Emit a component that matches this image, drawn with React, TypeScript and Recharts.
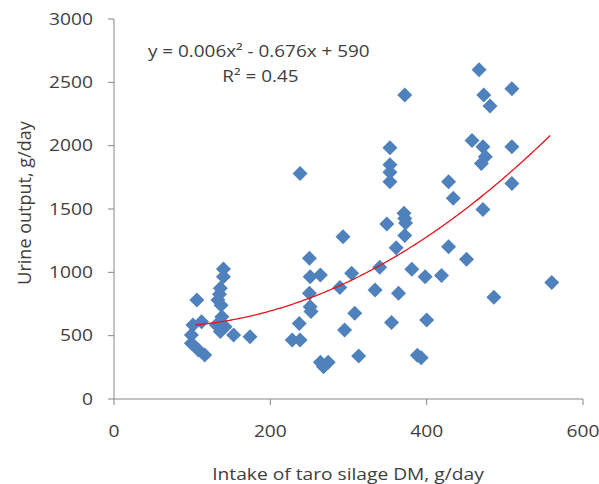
import React from "react";
import {
  ScatterChart,
  Scatter,
  XAxis,
  YAxis,
  ZAxis,
} from "recharts";

// Taro silage intake (g DM/day) vs. urine output (g/day), one value per animal-day
const intake = [
  99, 101, 106, 108, 112, 116, 99, 131, 133, 135, 136, 140, 140, 138, 142, 136, 153, 174, 137,
  228, 238, 237, 238, 250, 251, 264, 250, 251, 252, 264, 274, 268, 289, 293, 295, 304, 308,
  313, 334, 340, 349, 353, 353, 353, 353, 355, 361, 364, 371, 372, 373, 372, 372, 381, 388,
  393, 398, 400, 419, 428, 428, 434, 451, 458, 467, 470, 472, 472, 475, 473, 481, 486, 509,
  509, 509, 560,
];
const urine = [
  440, 584, 782, 387, 610, 347, 505, 584, 782, 826, 874, 966, 1026, 650, 571, 532, 505, 492, 740,
  466, 466, 597, 1781, 1111, 966, 979, 834, 729, 690, 290, 290, 255, 880, 1281, 545, 992, 676,
  340, 860, 1040, 1381, 1984, 1850, 1790, 1716, 603, 1195, 834, 1466, 1425, 1390, 1290, 2400, 1024, 345,
  325, 966, 624, 975, 1202, 1716, 1584, 1103, 2040, 2600, 1860, 1992, 1497, 1913, 2400, 2314, 803, 2450,
  1992, 1702, 920,
];

const xTicks = [0, 200, 400, 600];
const yTicks = [0, 500, 1000, 1500, 2000, 2500, 3000];

// fitted polynomial trendline: y = 0.006x² - 0.676x + 590
const trendA = 0.006;
const trendB = -0.676;
const trendC = 590;
const trendFrom = 104;
const trendTo = 558;

const points = intake.map((x, i) => ({ x, y: urine[i] }));

const trend: { x: number; y: number }[] = [];
for (let x = trendFrom; x <= trendTo; x += 2) {
  trend.push({ x, y: trendA * x * x + trendB * x + trendC });
}

const FONT = "'Open Sans', sans-serif";
const TEXT = "#404040";
const AXIS = "#868686";
const STRETCH = "scale(1.2,1)";

const Diamond = (props: any) => {
  const { cx, cy } = props;
  const r = 7.5;
  return (
    <path
      d={`M${cx},${cy - r}L${cx + r},${cy}L${cx},${cy + r}L${cx - r},${cy}Z`}
      fill="#4F81BD"
    />
  );
};

const NoDot = () => <g />;

const XTick = ({ x, y, payload }: any) => (
  <g transform={`translate(${x},${y})`}>
    <text transform={STRETCH} textAnchor="middle" dy="0.71em" fill={TEXT} fontSize={16} fontFamily={FONT}>
      {payload.value}
    </text>
  </g>
);

const YTick = ({ x, y, payload }: any) => (
  <g transform={`translate(${x},${y})`}>
    <text transform={STRETCH} textAnchor="end" dy="0.36em" fill={TEXT} fontSize={16} fontFamily={FONT}>
      {payload.value}
    </text>
  </g>
);

export default function App() {
  return (
    <div style={{ position: "absolute", left: 0, top: 0, width: 599, height: 484, background: "#fff" }}>
      <ScatterChart width={599} height={484} margin={{ top: 19, right: 16, bottom: 25, left: 0 }}>
        <XAxis
          type="number"
          dataKey="x"
          domain={[0, 600]}
          ticks={xTicks}
          height={60}
          tickSize={6}
          tickMargin={21}
          stroke={AXIS}
          tick={<XTick />}
          label={{
            content: () => (
              <g transform="translate(348,480)">
                <text transform={STRETCH} textAnchor="middle" fill={TEXT} fontSize={16} fontFamily={FONT}>
                  Intake of taro silage DM, g/day
                </text>
              </g>
            ),
          }}
        />
        <YAxis
          type="number"
          dataKey="y"
          domain={[0, 3000]}
          ticks={yTicks}
          width={114}
          tickSize={6}
          tickMargin={15}
          stroke={AXIS}
          tick={<YTick />}
          label={{
            content: () => (
              <text
                transform="translate(31,203) rotate(-90)"
                textAnchor="middle"
                fill={TEXT}
                fontSize={18}
                fontFamily={FONT}
              >
                Urine output, g/day
              </text>
            ),
          }}
        />
        <ZAxis range={[120, 120]} />
        <Scatter data={points} shape={<Diamond />} isAnimationActive={false} />
        <Scatter
          data={trend}
          line={{ stroke: "#e3141b", strokeWidth: 1.3 }}
          shape={<NoDot />}
          isAnimationActive={false}
        />
      </ScatterChart>
      <div
        style={{
          position: "absolute",
          left: 148,
          top: 39,
          fontFamily: FONT,
          fontSize: 16,
          color: TEXT,
          lineHeight: "25px",
          transform: "scaleX(1.18)",
          transformOrigin: "left top",
          whiteSpace: "nowrap",
        }}
      >
        <div>y = 0.006x² - 0.676x + 590</div>
        <div style={{ paddingLeft: 63 }}>R² = 0.45</div>
      </div>
    </div>
  );
}
